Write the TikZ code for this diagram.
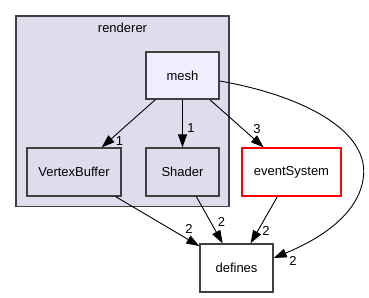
\documentclass[tikz,border=0pt]{standalone}
\usepackage{fontspec}
\setmainfont{Liberation Sans}
\usetikzlibrary{arrows.meta}
\definecolor{clusterfill}{HTML}{DDDDEE}
\definecolor{meshfill}{HTML}{EEEEFF}
\definecolor{edgegray}{HTML}{404040}
\tikzset{
  dirbox/.style={draw=edgegray, line width=1.3pt, fill=clusterfill, inner sep=0pt,
    font=\fontsize{13}{15}\selectfont},
  dep/.style={draw=black, line width=0.9pt,
    -{Triangle[length=13pt,width=9pt]}},
  cnt/.style={font=\fontsize{13}{15}\selectfont, inner sep=0pt}
}
\begin{document}
\begin{tikzpicture}[x=1pt,y=-1pt]
\useasboundingbox (0,0) rectangle (369,297);
% cluster: renderer
\draw[draw=edgegray, line width=1.3pt, fill=clusterfill] (16,16) rectangle (229,206.5);
\node[cnt] (lbl) at (122.5,28) {renderer};
% directories
\node[dirbox, fill=meshfill, minimum width=73pt, minimum height=47pt] (mesh) at (182.5,75.5) {mesh};
\node[dirbox, minimum width=94pt, minimum height=48pt] (vb) at (74,172) {VertexBuffer};
\node[dirbox, minimum width=73pt, minimum height=48pt] (shader) at (182.5,172) {Shader};
\node[dirbox, fill=white, draw=red, minimum width=99pt, minimum height=48pt] (ev) at (291.5,172) {eventSystem};
\node[dirbox, fill=white, minimum width=73pt, minimum height=48pt] (def) at (236.5,268) {defines};
% dependencies
\draw[dep] (mesh) -- (vb);
\draw[dep] (mesh) -- (shader);
\draw[dep] (mesh) -- (ev);
\draw[dep] ([yshift=-5.5pt]mesh.east) .. controls (300,95) and (372,130) .. (363,180)
  .. controls (356,220) and (310,243) .. ([yshift=10pt]def.east);
\draw[dep] (vb) -- (def);
\draw[dep] (shader) -- (def);
\draw[dep] (ev) -- (def);
% counts
\node[cnt] (n1) at (119.5,141) {1};
\node[cnt] (n2) at (191,128) {1};
\node[cnt] (n3) at (257,129) {3};
\node[cnt] (n4) at (189,229) {2};
\node[cnt] (n5) at (221.5,222) {2};
\node[cnt] (n6) at (266,231) {2};
\node[cnt] (n7) at (293,261) {2};
\end{tikzpicture}
\end{document}
